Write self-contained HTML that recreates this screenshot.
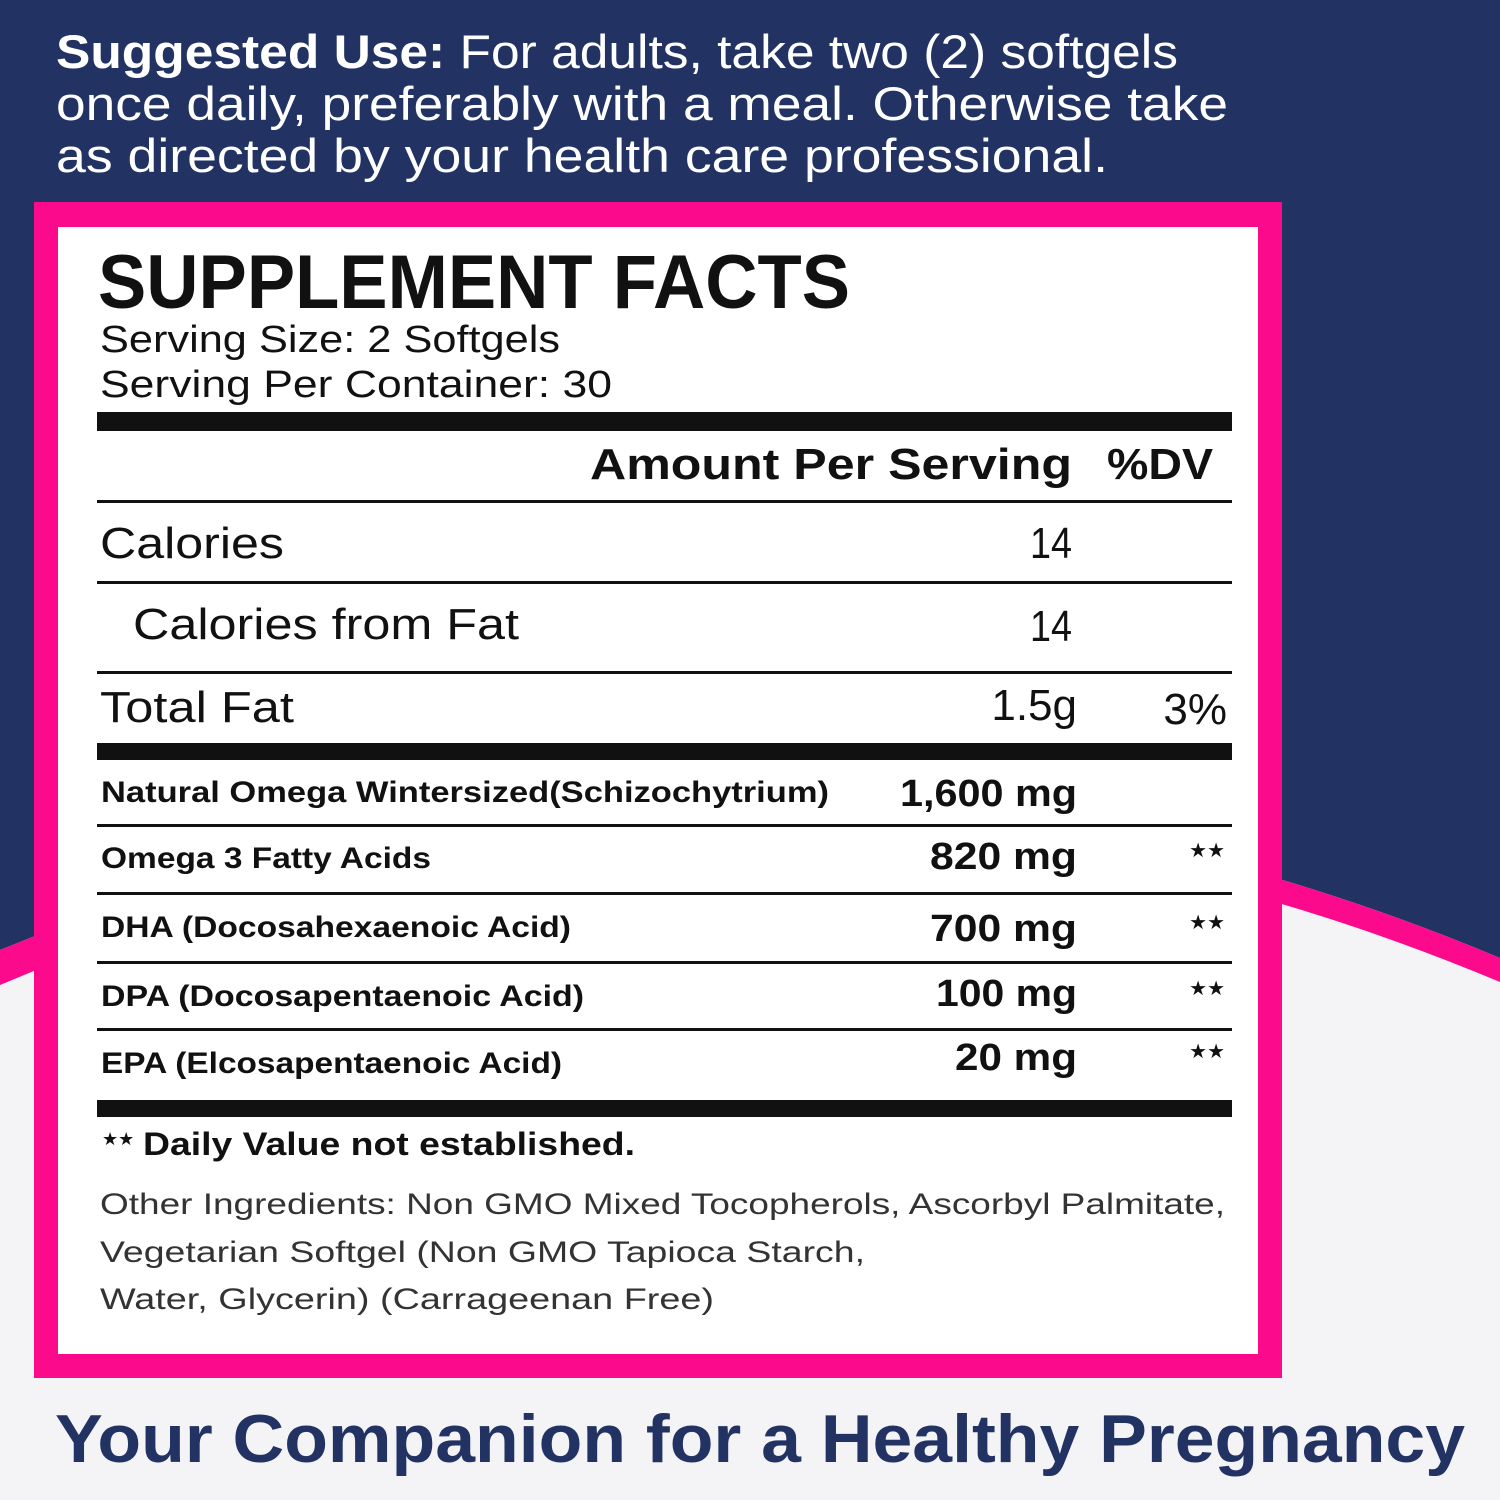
<!DOCTYPE html>
<html><head><meta charset="utf-8"><style>html,body{margin:0;padding:0;}svg{display:block}</style></head>
<body>
<svg width="1500" height="1500" viewBox="0 0 1500 1500" xmlns="http://www.w3.org/2000/svg" font-family="Liberation Sans, sans-serif">
<rect width="1500" height="1500" fill="#f4f4f6"/>
<path d="M0 0H1500V958Q750 644 0 950Z" fill="#213263"/>
<path d="M0 950Q750 644 1500 958V982Q750 668 0 985Z" fill="#fc0a8c"/>
<g fill="#fff" font-size="47">
<text x="56" y="68" textLength="1122" lengthAdjust="spacingAndGlyphs"><tspan font-weight="bold">Suggested Use:</tspan> For adults, take two (2) softgels</text>
<text x="56" y="120" textLength="1172" lengthAdjust="spacingAndGlyphs">once daily, preferably with a meal. Otherwise take</text>
<text x="56" y="172" textLength="1052" lengthAdjust="spacingAndGlyphs">as directed by your health care professional.</text>
</g>
<rect x="34" y="202" width="1248" height="1176" fill="#fc0a8c"/>
<rect x="58" y="227" width="1200" height="1127" fill="#fff"/>
<g fill="#111">
<text x="98" y="308" font-size="76" font-weight="bold" textLength="752" lengthAdjust="spacingAndGlyphs">SUPPLEMENT FACTS</text>
<text x="100" y="352" font-size="38" textLength="460" lengthAdjust="spacingAndGlyphs">Serving Size: 2 Softgels</text>
<text x="100" y="397" font-size="38" textLength="512" lengthAdjust="spacingAndGlyphs">Serving Per Container: 30</text>
<rect x="97" y="412" width="1135" height="19"/>
<text x="590" y="479" font-size="44" font-weight="bold" textLength="482" lengthAdjust="spacingAndGlyphs">Amount Per Serving</text>
<text x="1107" y="479" font-size="44" font-weight="bold" textLength="106" lengthAdjust="spacingAndGlyphs">%DV</text>
<rect x="97" y="500" width="1135" height="3"/>
<text x="100" y="558" font-size="44" textLength="184" lengthAdjust="spacingAndGlyphs">Calories</text>
<text x="1030" y="558" font-size="44" textLength="42" lengthAdjust="spacingAndGlyphs">14</text>
<rect x="97" y="581" width="1135" height="3"/>
<text x="133" y="639" font-size="44" textLength="386" lengthAdjust="spacingAndGlyphs">Calories from Fat</text>
<text x="1030" y="641" font-size="44" textLength="42" lengthAdjust="spacingAndGlyphs">14</text>
<rect x="97" y="671" width="1135" height="3"/>
<text x="100" y="722" font-size="44" textLength="194" lengthAdjust="spacingAndGlyphs">Total Fat</text>
<text x="1077" y="720" font-size="44" text-anchor="end">1.5g</text>
<text x="1227" y="724" font-size="44" text-anchor="end">3%</text>
<rect x="97" y="743" width="1135" height="17"/>
<g font-size="30" font-weight="bold">
<text x="101" y="802" textLength="728" lengthAdjust="spacingAndGlyphs">Natural Omega Wintersized(Schizochytrium)</text>
<text x="101" y="868" textLength="330" lengthAdjust="spacingAndGlyphs">Omega 3 Fatty Acids</text>
<text x="101" y="937" textLength="470" lengthAdjust="spacingAndGlyphs">DHA (Docosahexaenoic Acid)</text>
<text x="101" y="1006" textLength="483" lengthAdjust="spacingAndGlyphs">DPA (Docosapentaenoic Acid)</text>
<text x="101" y="1073" textLength="461" lengthAdjust="spacingAndGlyphs">EPA (Elcosapentaenoic Acid)</text>
</g>
<g font-size="38" font-weight="bold">
<text x="900" y="806" textLength="177" lengthAdjust="spacingAndGlyphs">1,600 mg</text>
<text x="930" y="869" textLength="147" lengthAdjust="spacingAndGlyphs">820 mg</text>
<text x="930" y="941" textLength="147" lengthAdjust="spacingAndGlyphs">700 mg</text>
<text x="936" y="1006" textLength="141" lengthAdjust="spacingAndGlyphs">100 mg</text>
<text x="955" y="1070" textLength="122" lengthAdjust="spacingAndGlyphs">20 mg</text>
</g>
<g font-size="20" text-anchor="end">
<text x="1225" y="857">★★</text>
<text x="1225" y="929">★★</text>
<text x="1225" y="995">★★</text>
<text x="1225" y="1058">★★</text>
</g>
<rect x="97" y="824" width="1135" height="3"/>
<rect x="97" y="892" width="1135" height="3"/>
<rect x="97" y="961" width="1135" height="3"/>
<rect x="97" y="1028" width="1135" height="3"/>
<rect x="97" y="1100" width="1135" height="17"/>
<text x="102" y="1145" font-size="18">★★</text>
<text x="143" y="1155" font-size="32" font-weight="bold" textLength="492" lengthAdjust="spacingAndGlyphs">Daily Value not established.</text>
<g font-size="30" fill="#333">
<text x="100" y="1214" textLength="1125" lengthAdjust="spacingAndGlyphs">Other Ingredients: Non GMO Mixed Tocopherols, Ascorbyl Palmitate,</text>
<text x="100" y="1262" textLength="765" lengthAdjust="spacingAndGlyphs">Vegetarian Softgel (Non GMO Tapioca Starch,</text>
<text x="100" y="1309" textLength="614" lengthAdjust="spacingAndGlyphs">Water, Glycerin) (Carrageenan Free)</text>
</g>
</g>
<text x="55" y="1462" font-size="68" font-weight="bold" fill="#213263" textLength="1410" lengthAdjust="spacingAndGlyphs">Your Companion for a Healthy Pregnancy</text>
</svg>
</body></html>
